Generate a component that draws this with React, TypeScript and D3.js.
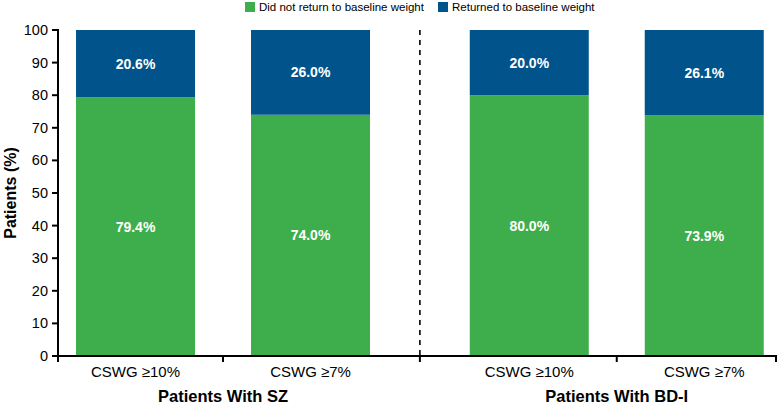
import React from "react";
import * as d3 from "d3";

const categories = ["CSWG ≥10%", "CSWG ≥7%", "CSWG ≥10%", "CSWG ≥7%"];
const groups = ["Patients With SZ", "Patients With BD-I"];
const notReturned = [79.4, 74.0, 80.0, 73.9];
const returned = [20.6, 26.0, 20.0, 26.1];
const notReturnedLabels = ["79.4%", "74.0%", "80.0%", "73.9%"];
const returnedLabels = ["20.6%", "26.0%", "20.0%", "26.1%"];
const yTicks = [0, 10, 20, 30, 40, 50, 60, 70, 80, 90, 100];
const legendLabels = ["Did not return to baseline weight", "Returned to baseline weight"];

// slot positions (centers) in abstract units
const slots = [0, 1, 2.25, 3.25];
const groupTicks = [0.5, 2.75];
const separator = 1.625;
const xDomain = [-0.443, 3.66];

const W = 780;
const H = 405;
const GREEN = "#3dae4b";
const BLUE = "#00548b";
const FONT = "'Liberation Sans', Arial, sans-serif";

export default function App() {
  const x = d3.scaleLinear().domain(xDomain).range([58, 776]);
  const y = d3.scaleLinear().domain([0, 100]).range([356, 30]);
  const barW = x(0.68) - x(0);
  const axisTicks = [xDomain[0], groupTicks[0], separator, groupTicks[1], xDomain[1]];

  return (
    <svg
      width={W}
      height={H}
      style={{ position: "absolute", left: 0, top: 0, fontFamily: FONT }}
    >
      {/* legend */}
      <rect x={245} y={2} width={10} height={10} fill={GREEN} />
      <text x={259} y={11} fontSize={11.5} fill="#000">{legendLabels[0]}</text>
      <rect x={438} y={2} width={10} height={10} fill={BLUE} />
      <text x={452} y={11} fontSize={11.5} fill="#000">{legendLabels[1]}</text>

      {/* bars */}
      {slots.map((s, i) => {
        const x0 = x(s) - barW / 2;
        return (
          <g key={i}>
            <rect x={x0} y={y(notReturned[i])} width={barW} height={y(0) - y(notReturned[i])} fill={GREEN} />
            <rect
              x={x0}
              y={y(notReturned[i] + returned[i])}
              width={barW}
              height={y(notReturned[i]) - y(notReturned[i] + returned[i])}
              fill={BLUE}
            />
            <text
              x={x(s)}
              y={y(notReturned[i] / 2)}
              textAnchor="middle"
              dominantBaseline="central"
              fill="#fff"
              fontWeight="bold"
              fontSize={14}
            >
              {notReturnedLabels[i]}
            </text>
            <text
              x={x(s)}
              y={y(notReturned[i] + returned[i] / 2)}
              textAnchor="middle"
              dominantBaseline="central"
              fill="#fff"
              fontWeight="bold"
              fontSize={14}
            >
              {returnedLabels[i]}
            </text>
            <text x={x(s)} y={377} textAnchor="middle" fontSize={15} fill="#000">
              {categories[i]}
            </text>
          </g>
        );
      })}

      {/* separator */}
      <line
        x1={x(separator)}
        x2={x(separator)}
        y1={y(100)}
        y2={y(0)}
        stroke="#000"
        strokeWidth={1.6}
        strokeDasharray="5,5"
      />

      {/* y axis */}
      <line x1={58} x2={58} y1={y(100) - 1} y2={y(0) + 1} stroke="#000" strokeWidth={2} />
      {yTicks.map((t) => (
        <g key={t}>
          <line x1={52} x2={58} y1={y(t)} y2={y(t)} stroke="#000" strokeWidth={2} />
          <text x={48} y={y(t)} textAnchor="end" dominantBaseline="central" fontSize={14.5} fill="#000">
            {t}
          </text>
        </g>
      ))}
      <text
        transform={`translate(10,${(y(0) + y(100)) / 2}) rotate(-90)`}
        textAnchor="middle"
        dominantBaseline="central"
        fontWeight="bold"
        fontSize={16}
        fill="#000"
      >
        Patients (%)
      </text>

      {/* x axis */}
      <line x1={57} x2={777} y1={y(0)} y2={y(0)} stroke="#000" strokeWidth={2} />
      {axisTicks.map((t, i) => (
        <line key={i} x1={x(t)} x2={x(t)} y1={y(0)} y2={y(0) + 6} stroke="#000" strokeWidth={2} />
      ))}
      {groupTicks.map((t, i) => (
        <text key={i} x={x(t)} y={402} textAnchor="middle" fontWeight="bold" fontSize={16.5} fill="#000">
          {groups[i]}
        </text>
      ))}
    </svg>
  );
}
